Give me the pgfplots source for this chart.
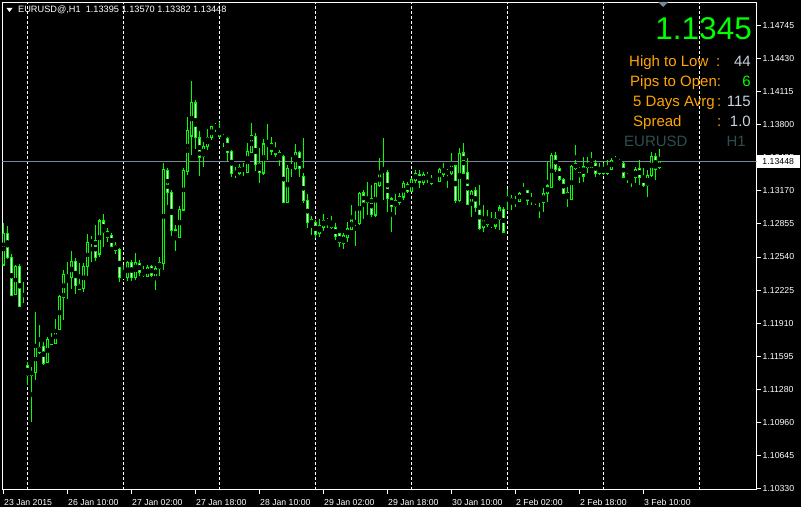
\documentclass[border=0pt]{standalone}
\usepackage{fontspec}
\setmainfont{Liberation Sans}
\usepackage{pgfplots}
\usepackage{pgfplotstable}
\pgfplotsset{compat=1.18}
\definecolor{cgreen}{RGB}{0,255,0}
\definecolor{orng}{RGB}{255,165,0}
\definecolor{valgray}{RGB}{200,210,225}
\definecolor{dslate}{RGB}{47,79,79}
\definecolor{slate}{RGB}{119,136,153}

\pgfplotstableread{
k O H L C
0 1.12464 1.12865 1.12454 1.12769
1 1.12769 1.12836 1.12521 1.12540
2 1.12540 1.12569 1.12168 1.12177
3 1.12187 1.12464 1.12177 1.12454
4 1.12454 1.12473 1.12072 1.12072
5 1.12072 1.12301 1.12053 1.12082
6 1.11509 1.11538 1.11318 1.11414
7 1.11414 1.11490 1.10965 1.11452
8 1.11442 1.12015 1.11366 1.11690
9 1.11681 1.11891 1.11614 1.11633
10 1.11690 1.11729 1.11509 1.11528
11 1.11538 1.11776 1.11528 1.11757
12 1.11757 1.11815 1.11700 1.11710
13 1.11719 1.11948 1.11719 1.11843
14 1.11853 1.12177 1.11843 1.12168
15 1.12158 1.12416 1.11939 1.12378
16 1.12368 1.12492 1.12139 1.12340
17 1.12349 1.12597 1.12235 1.12502
18 1.12502 1.12530 1.12187 1.12273
19 1.12282 1.12483 1.12225 1.12235
20 1.12235 1.12483 1.12206 1.12445
21 1.12445 1.12760 1.12359 1.12674
22 1.12674 1.12740 1.12492 1.12702
23 1.12693 1.12845 1.12502 1.12540
24 1.12569 1.12903 1.12540 1.12884
25 1.12884 1.12950 1.12635 1.12779
26 1.12779 1.12817 1.12683 1.12731
27 1.12750 1.12769 1.12635 1.12645
28 1.12655 1.12683 1.12569 1.12607
29 1.12616 1.12626 1.12301 1.12349
30 1.12359 1.12464 1.12330 1.12349
31 1.12349 1.12502 1.12311 1.12492
32 1.12492 1.12511 1.12311 1.12349
33 1.12349 1.12578 1.12320 1.12492
34 1.12483 1.12511 1.12359 1.12397
35 1.12406 1.12454 1.12349 1.12359
36 1.12359 1.12464 1.12349 1.12445
37 1.12454 1.12464 1.12349 1.12368
38 1.12359 1.12454 1.12225 1.12435
39 1.12435 1.12540 1.12359 1.12492
40 1.12483 1.13437 1.12416 1.13380
41 1.13370 1.13389 1.13036 1.13160
42 1.13160 1.13179 1.12740 1.12798
43 1.12798 1.12845 1.12597 1.12731
44 1.12731 1.13027 1.12721 1.12998
45 1.12989 1.13389 1.12979 1.13370
46 1.13361 1.13876 1.13323 1.13752
47 1.13695 1.14220 1.13514 1.14019
48 1.14010 1.14038 1.13571 1.13676
49 1.13676 1.13743 1.13313 1.13494
50 1.13504 1.13638 1.13399 1.13599
51 1.13599 1.13762 1.13561 1.13685
52 1.13685 1.13790 1.13657 1.13790
53 1.13790 1.13819 1.13733 1.13781
54 1.13752 1.13829 1.13676 1.13695
55 1.13704 1.13714 1.13590 1.13666
56 1.13676 1.13685 1.13456 1.13542
57 1.13552 1.13561 1.13304 1.13342
58 1.13342 1.13399 1.13294 1.13340
59 1.13342 1.13428 1.13323 1.13399
60 1.13389 1.13437 1.13313 1.13361
61 1.13351 1.13628 1.13342 1.13552
62 1.13542 1.13819 1.13533 1.13704
63 1.13695 1.13724 1.13361 1.13428
64 1.13428 1.13580 1.13246 1.13342
65 1.13342 1.13666 1.13323 1.13619
66 1.13619 1.13809 1.13466 1.13609
67 1.13619 1.13685 1.13514 1.13552
68 1.13580 1.13638 1.13494 1.13523
69 1.13533 1.13561 1.13409 1.13494
70 1.13504 1.13514 1.13055 1.13065
71 1.13065 1.13418 1.13055 1.13389
72 1.13399 1.13494 1.13304 1.13409
73 1.13389 1.13619 1.13370 1.13542
74 1.13542 1.13552 1.13304 1.13389
75 1.13313 1.13676 1.13055 1.13084
76 1.13084 1.13141 1.12817 1.12874
77 1.12855 1.12931 1.12750 1.12893
78 1.12874 1.12893 1.12721 1.12760
79 1.12760 1.12903 1.12731 1.12836
80 1.12826 1.12950 1.12788 1.12893
81 1.12893 1.12912 1.12817 1.12865
82 1.12865 1.12931 1.12807 1.12826
83 1.12826 1.12865 1.12702 1.12740
84 1.12760 1.12769 1.12635 1.12674
85 1.12674 1.12769 1.12616 1.12750
86 1.12731 1.12874 1.12683 1.12817
87 1.12807 1.13036 1.12798 1.12893
88 1.12874 1.12979 1.12645 1.12865
89 1.12865 1.13160 1.12845 1.13151
90 1.13151 1.13179 1.12903 1.13055
91 1.13065 1.13256 1.12941 1.13103
92 1.13103 1.13227 1.12922 1.12950
93 1.12941 1.13237 1.12922 1.13237
94 1.13218 1.13485 1.13208 1.13342
95 1.13361 1.13676 1.13084 1.13370
96 1.13351 1.13370 1.12970 1.13103
97 1.13094 1.13113 1.12779 1.13027
98 1.13027 1.13141 1.12941 1.13084
99 1.13065 1.13151 1.13036 1.13113
100 1.13113 1.13265 1.13084 1.13246
101 1.13237 1.13256 1.13151 1.13170
102 1.13170 1.13294 1.13160 1.13284
103 1.13275 1.13370 1.13246 1.13342
104 1.13332 1.13370 1.13199 1.13256
105 1.13256 1.13351 1.13227 1.13332
106 1.13332 1.13351 1.13246 1.13294
107 1.13294 1.13323 1.13227 1.13246
108 1.13256 1.13284 1.13237 1.13265
109 1.13265 1.13389 1.13256 1.13380
110 1.13389 1.13437 1.13304 1.13332
111 1.13361 1.13380 1.13199 1.13332
112 1.13342 1.13533 1.13323 1.13418
113 1.13409 1.13418 1.13055 1.13084
114 1.13084 1.13580 1.13065 1.13533
115 1.13533 1.13628 1.13342 1.13342
116 1.13351 1.13485 1.13036 1.13046
117 1.13055 1.13179 1.12922 1.13170
118 1.13179 1.13208 1.12970 1.13017
119 1.13027 1.13227 1.12798 1.12817
120 1.12826 1.13036 1.12779 1.12893
121 1.12893 1.12989 1.12826 1.12855
122 1.12855 1.12970 1.12817 1.12845
123 1.12836 1.12970 1.12807 1.12912
124 1.12903 1.13036 1.12798 1.13008
125 1.12998 1.13017 1.12769 1.12779
126 1.13084 1.13189 1.12989 1.13113
127 1.13103 1.13132 1.12989 1.13055
128 1.13075 1.13122 1.13017 1.13055
129 1.13075 1.13160 1.13065 1.13151
130 1.13141 1.13246 1.13132 1.13170
131 1.13179 1.13179 1.13036 1.13084
132 1.13094 1.13151 1.13036 1.13075
133 1.13094 1.13103 1.13036 1.13065
134 1.13075 1.13084 1.12912 1.13084
135 1.13065 1.13199 1.12970 1.13151
136 1.13151 1.13447 1.13065 1.13218
137 1.13208 1.13533 1.13199 1.13514
138 1.13514 1.13542 1.13351 1.13380
139 1.13389 1.13409 1.13265 1.13284
140 1.13284 1.13294 1.13141 1.13151
141 1.13151 1.13208 1.13017 1.13113
142 1.13094 1.13418 1.13084 1.13409
143 1.13389 1.13609 1.13370 1.13428
144 1.13389 1.13399 1.13246 1.13351
145 1.13399 1.13494 1.13256 1.13313
146 1.13399 1.13494 1.13342 1.13437
147 1.13437 1.13542 1.13389 1.13399
148 1.13437 1.13466 1.13304 1.13342
149 1.13342 1.13437 1.13323 1.13389
150 1.13389 1.13437 1.13323 1.13342
151 1.13342 1.13466 1.13323 1.13389
152 1.13380 1.13485 1.13370 1.13466
153 1.13456 1.13504 1.13437 1.13475
154 1.13456 1.13475 1.13418 1.13437
155 1.13437 1.13447 1.13294 1.13304
156 1.13304 1.13342 1.13246 1.13323
157 1.13313 1.13323 1.13208 1.13304
158 1.13304 1.13399 1.13246 1.13380
159 1.13389 1.13466 1.13227 1.13304
160 1.13313 1.13389 1.13208 1.13227
161 1.13227 1.13370 1.13113 1.13323
162 1.13323 1.13542 1.13304 1.13504
163 1.13504 1.13533 1.13275 1.13380
164 1.13395 1.13570 1.13382 1.13448
}\candles

\begin{document}
\begin{tikzpicture}[x=1pt,y=1pt]
\fill[black] (0,0) rectangle (801,507);
\begin{axis}[
  at={(2.5pt,17.5pt)}, anchor=south west,
  scale only axis, width=754pt, height=487pt,
  xmin=-0.25, xmax=188.25, ymin=1.10321, ymax=1.14969,
  axis background/.style={fill=black},
  axis line style={white, line width=1pt},
  tick style={white, line width=1pt},
  major tick length=4pt,
  tick align=outside,
  xtick pos=bottom, ytick pos=right,
  xtick={0,16,32,48,64,80,96,112,128,144,160},
  xticklabels={23 Jan 2015,26 Jan 10:00,27 Jan 02:00,27 Jan 18:00,28 Jan 10:00,29 Jan 02:00,29 Jan 18:00,30 Jan 10:00,2 Feb 02:00,2 Feb 18:00,3 Feb 10:00},
  ytick={1.14745,1.14430,1.14115,1.13800,1.13485,1.13170,1.12855,1.12540,1.12225,1.11910,1.11595,1.11280,1.10965,1.10650,1.10335},
  yticklabels={1.14745,1.14430,1.14115,1.13800,1.13485,1.13170,1.12855,1.12540,1.12225,1.11910,1.11595,1.11280,1.10960,1.10645,1.10330},
  tick label style={font=\fontsize{8.7}{10}\selectfont, text=white},
  xticklabel style={anchor=base west, inner sep=0pt, xshift=0.5pt, yshift=-12pt},
  yticklabel style={anchor=west, inner sep=0pt, xshift=2pt},
  extra x ticks={6,30,54,78,102,126,150,174},
  extra x tick labels={},
  extra x tick style={grid=major, major tick length=0pt,
     major grid style={white, line width=1pt, dash pattern=on 3pt off 2pt}},
  clip=true,
]
\addplot[slate, line width=1pt, forget plot] coordinates {(-1,1.13448) (189,1.13448)};
% wicks
\addplot[only marks, mark=none, forget plot,
  error bars/.cd, y dir=both, y explicit, error mark=none,
  error bar style={draw=cgreen, line width=1pt}]
  table[x=k, y expr={(\thisrow{H}+\thisrow{L})/2}, y error expr={(\thisrow{H}-\thisrow{L})/2}] {\candles};
% bodies outline
\addplot[only marks, mark=none, forget plot,
  error bars/.cd, y dir=both, y explicit, error mark=none,
  error bar style={draw=cgreen, line width=3pt}]
  table[x=k, y expr={(\thisrow{O}+\thisrow{C})/2}, y error expr={abs(\thisrow{O}-\thisrow{C})/2+0.00005}] {\candles};
% bull interior (black)
\addplot[only marks, mark=none, forget plot,
  error bars/.cd, y dir=both, y explicit, error mark=none,
  error bar style={draw=black, line width=1pt}]
  table[x=k, y expr={(\thisrow{O}+\thisrow{C})/2}, y error expr={(\thisrow{C}>\thisrow{O})*max(abs(\thisrow{O}-\thisrow{C})/2-0.00005,0)}] {\candles};
% bear interior (white)
\addplot[only marks, mark=none, forget plot,
  error bars/.cd, y dir=both, y explicit, error mark=none,
  error bar style={draw=white, line width=1pt}]
  table[x=k, y expr={(\thisrow{O}+\thisrow{C})/2}, y error expr={(\thisrow{C}<\thisrow{O})*max(abs(\thisrow{O}-\thisrow{C})/2-0.00005,0)}] {\candles};
\end{axis}
% header
\fill[white] (6.5,499) -- (12.5,499) -- (9.5,495) -- cycle;
\node[anchor=base west, inner sep=0pt, text=white, font=\fontsize{9.2}{10}\selectfont] at (18,494) {EURUSD@,H1\ \ 1.13395 1.13570 1.13382 1.13448};
% shift marker
\fill[slate] (658,505) -- (668,505) -- (663,500) -- cycle;
% price box
\node[fill=white, text=black, anchor=west, inner sep=1pt, minimum height=13pt, minimum width=43pt, font=\fontsize{8.7}{10}\selectfont] at (756.5,345) {1.13448};
% info panel
\node[anchor=base east, inner sep=0pt, text=cgreen, font=\fontsize{31.5}{34}\selectfont] at (752,467.5) {1.1345};
\begin{scope}[every node/.style={inner sep=0pt, font=\fontsize{15}{18}\selectfont}]
\node[anchor=base west, text=orng] at (629,440) {High to Low};
\node[anchor=base west, text=orng] at (716,440) {:};
\node[anchor=base east, text=valgray] at (751,440) {44};
\node[anchor=base west, text=orng] at (630,420.5) {Pips to Open:};
\node[anchor=base east, text=cgreen] at (751,420.5) {6};
\node[anchor=base west, text=orng] at (633,400) {5 Days Avrg};
\node[anchor=base west, text=orng] at (717,400) {:};
\node[anchor=base east, text=valgray] at (751,400) {115};
\node[anchor=base west, text=orng] at (633,380) {Spread};
\node[anchor=base west, text=orng] at (717,380) {:};
\node[anchor=base east, text=valgray] at (751,380) {1.0};
\node[anchor=base west, text=dslate] at (624,360) {EURUSD};
\node[anchor=base east, text=dslate] at (746,360) {H1};
\end{scope}
\pgfresetboundingbox
\useasboundingbox (0,0) rectangle (801,507);
\end{tikzpicture}
\end{document}
